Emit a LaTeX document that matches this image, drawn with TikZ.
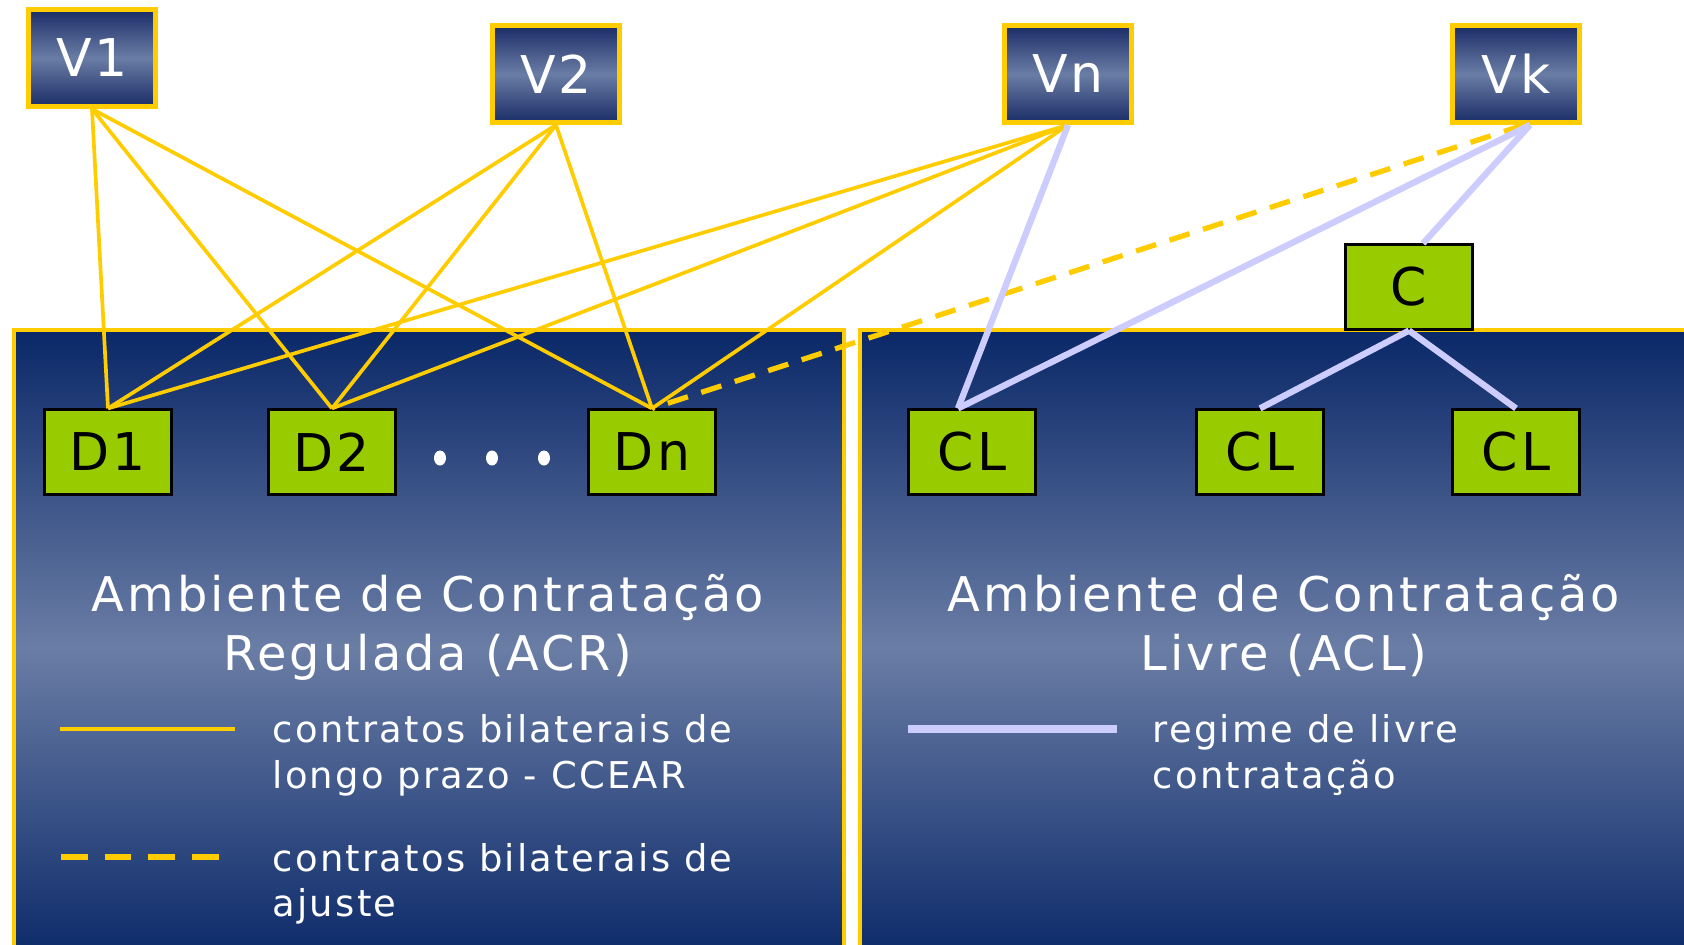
\documentclass[tikz,border=0pt]{standalone}
\usepackage{fontspec}
\setmainfont{DejaVu Sans}[LetterSpace=6]
\definecolor{ouro}{RGB}{255,204,0}
\definecolor{lilas}{RGB}{204,204,255}
\definecolor{verde}{RGB}{153,204,0}
\definecolor{marinho}{RGB}{10,40,104}
\definecolor{azulclaro}{RGB}{106,125,165}
\definecolor{vtopo}{RGB}{26,44,102}
\newcommand{\vendedor}[3]{
	\node [vend] (#1) at (#2) {#3};
	}
\newcommand{\consumidor}[3]{
	\node [cons] (#1) at (#2) {#3};
	}

\begin{document}
\begin{tikzpicture}[x=0.01cm, y=-0.01cm,
	vend/.style={draw=ouro, line width=1.4pt, top color=vtopo, bottom color=vtopo, middle color=azulclaro, text=white, minimum width=1.27cm, minimum height=0.97cm, inner sep=0pt, font=\fontsize{14.8}{16}\selectfont},
	cons/.style={draw=black, line width=0.6pt, fill=verde, minimum width=1.27cm, minimum height=0.85cm, inner sep=0pt, font=\fontsize{14.8}{16}\selectfont},
	ambiente/.style={draw=ouro, line width=1.1pt, top color=marinho, bottom color=marinho, middle color=azulclaro},
	ccear/.style={ouro, line width=1.05pt},
	ajuste/.style={ouro, line width=1.5pt, dash pattern=on 6pt off 4pt},
	livre/.style={lilas, line width=1.8pt},
	titulo/.style={text=white, anchor=base, align=center, inner sep=0pt, font=\fontsize{13.6}{16.5}\selectfont},
	legenda/.style={text=white, anchor=base west, align=left, inner sep=0pt, font=\fontsize{10.5}{12.8}\selectfont}]
	\useasboundingbox (0,0) rectangle (1684,945);
	\clip (0,0) rectangle (1684,945);
	% ambientes
	\draw [ambiente] (14,330) rectangle (844,965);
	\draw [ambiente] (860,330) rectangle (1720,965);
	\vendedor{V1}{92,58}{V1}
	\vendedor{V2}{556,74}{V2}
	\vendedor{Vn}{1068,74}{Vn}
	\vendedor{Vk}{1516,74}{Vk}
	\consumidor{D1}{108,452}{D1}
	\consumidor{D2}{332,452}{D2}
	\consumidor{Dn}{652,452}{Dn}
	\consumidor{CLa}{972,452}{CL}
	\consumidor{CLb}{1260,452}{CL}
	\consumidor{CLc}{1516,452}{CL}
	\consumidor{C}{1409,287}{C}
	\foreach \x in {440,492,544}
		\fill [white] (\x,458) ellipse (0.06cm and 0.075cm);
	% contratos
	\foreach \v in {V1,V2,Vn}
		\foreach \d in {D1,D2,Dn}
			\draw [ccear] (\v.south) -- (\d.north);
	\draw [ajuste] ([xshift=0.08cm]Vk.south) -- (Dn.north);
	\draw [livre] (Vn.south) -- ([xshift=-0.14cm]CLa.north);
	\draw [livre] ([xshift=0.14cm]Vk.south) -- ([xshift=-0.14cm]CLa.north);
	\draw [livre] ([xshift=0.14cm]Vk.south) -- ([xshift=0.14cm]C.north);
	\draw [livre] (C.south) -- (CLb.north);
	\draw [livre] (C.south) -- (CLc.north);
	% textos
	\node [titulo] (acr) at (428,670) {Ambiente de Contratação\\Regulada (ACR)};
	\node [titulo] (acl) at (1284,670) {Ambiente de Contratação\\Livre (ACL)};
	\coordinate (l1a) at (60,729);
	\coordinate (l1b) at (235,729);
	\coordinate (l2a) at (61,857);
	\coordinate (l2b) at (220,857);
	\coordinate (l3a) at (908,729);
	\coordinate (l3b) at (1117,729);
	\draw [ccear, line width=1.2pt] (l1a) -- (l1b);
	\draw [ajuste, dash pattern=on 7.6pt off 4.8pt] (l2a) -- (l2b);
	\draw [livre, line width=2pt] (l3a) -- (l3b);
	\node [legenda] (leg1) at (272,788) {contratos bilaterais de\\longo prazo - CCEAR};
	\node [legenda] (leg2) at (272,916) {contratos bilaterais de\\ajuste};
	\node [legenda] (leg3) at (1152,788) {regime de livre\\contratação};
\end{tikzpicture}
\end{document}
